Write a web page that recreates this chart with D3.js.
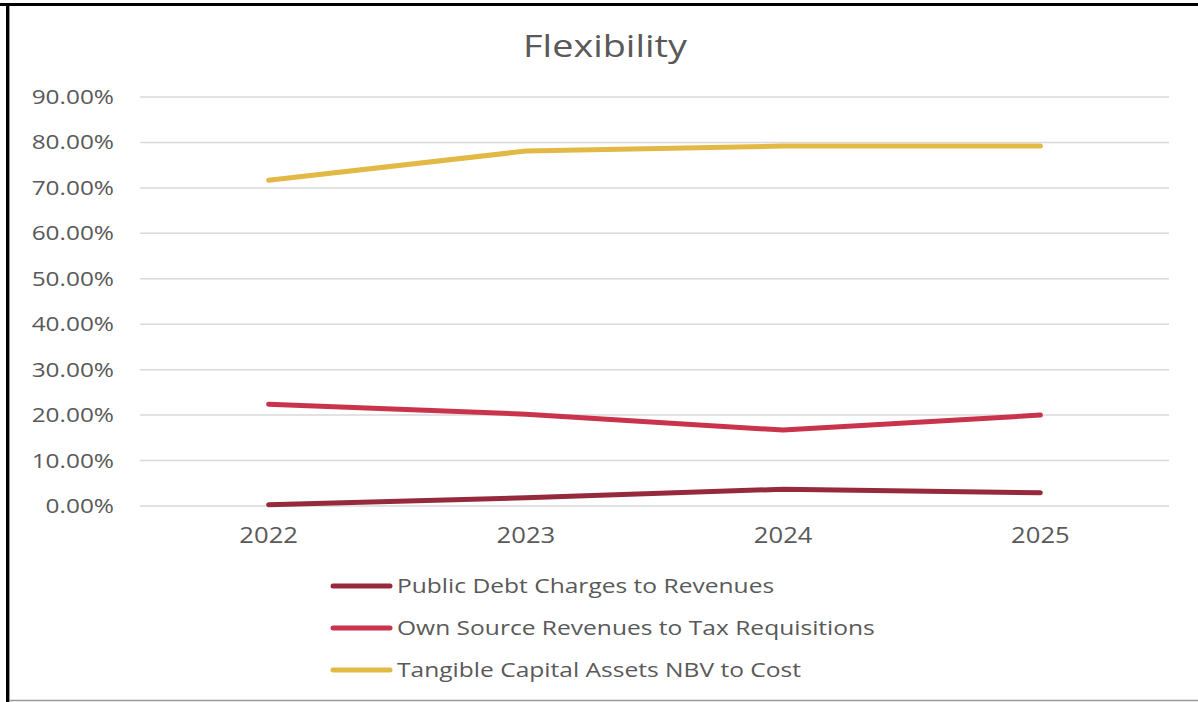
<!DOCTYPE html>
<html><head><meta charset="utf-8">
<script src="https://cdn.jsdelivr.net/npm/d3@7"></script>
<style>html,body{margin:0;padding:0;background:#fff;}svg{display:block;}</style>
</head><body>
<script>
const title = "Flexibility";
const years = ["2022","2023","2024","2025"];
const seriesNames = ["Public Debt Charges to Revenues","Own Source Revenues to Tax Requisitions","Tangible Capital Assets NBV to Cost"];
const publicDebt = [0.003, 0.018, 0.037, 0.029];
const ownSource = [0.224, 0.202, 0.167, 0.200];
const tangible = [0.717, 0.781, 0.792, 0.792];
const yTicks = [0,0.1,0.2,0.3,0.4,0.5,0.6,0.7,0.8,0.9];
const colors = ["#952A3C","#C9334C","#E3B945"];
const seriesValues = [publicDebt, ownSource, tangible];

const W=1198,H=702;
const svg=d3.select("body").append("svg").attr("width",W).attr("height",H);
const font="'Open Sans', sans-serif";
const txt="#595959";
const SX=1.22;

// frame
svg.append("line").attr("x1",0).attr("x2",W).attr("y1",4.5).attr("y2",4.5).attr("stroke","#000").attr("stroke-width",3);
svg.append("line").attr("x1",7.5).attr("x2",7.5).attr("y1",3).attr("y2",H).attr("stroke","#000").attr("stroke-width",3);
svg.append("line").attr("x1",9.5).attr("x2",9.5).attr("y1",6).attr("y2",H).attr("stroke","#999").attr("stroke-width",1);
svg.append("line").attr("x1",9).attr("x2",W).attr("y1",700.5).attr("y2",700.5).attr("stroke","#999").attr("stroke-width",1.5);

const x=d3.scaleBand().domain(years).range([140,1169]);
const y=d3.scaleLinear().domain([0,0.9]).range([506,97]);

function stext(g,xp,yp,s,size,anchor,sx){
  return g.append("text").attr("transform",`translate(${xp},${yp}) scale(${sx||SX},1)`)
    .attr("text-anchor",anchor).attr("font-family",font).attr("font-size",size).attr("fill",txt).text(s);
}

// gridlines
svg.append("g").selectAll("line").data(yTicks).join("line")
  .attr("x1",140).attr("x2",1169).attr("y1",d=>y(d)).attr("y2",d=>y(d))
  .attr("stroke","#D9D9D9").attr("stroke-width",1.5);

// y axis labels
const yl=svg.append("g");
yTicks.forEach(t=>stext(yl,114,y(t)+7,d3.format(".2%")(t),20,"end"));

// x labels
const xl=svg.append("g");
years.forEach(yr=>stext(xl,x(yr)+x.bandwidth()/2,543,yr,21,"middle"));

// title
stext(svg,605,57,title,31,"middle");

// lines
const line=d3.line().x((d,i)=>x(years[i])+x.bandwidth()/2).y(d=>y(d));
seriesValues.forEach((vals,i)=>{
  svg.append("path").datum(vals).attr("d",line).attr("fill","none")
    .attr("stroke",colors[i]).attr("stroke-width",5).attr("stroke-linecap","round").attr("stroke-linejoin","round");
});

// legend
const lg=svg.append("g");
const legY=[586,628,670];
seriesNames.forEach((n,i)=>{
  lg.append("line").attr("x1",333).attr("x2",390).attr("y1",legY[i]).attr("y2",legY[i])
    .attr("stroke",colors[i]).attr("stroke-width",5).attr("stroke-linecap","round");
  stext(lg,397,legY[i]+7,n,19.5,"start",1.26);
});
</script>
</body></html>
